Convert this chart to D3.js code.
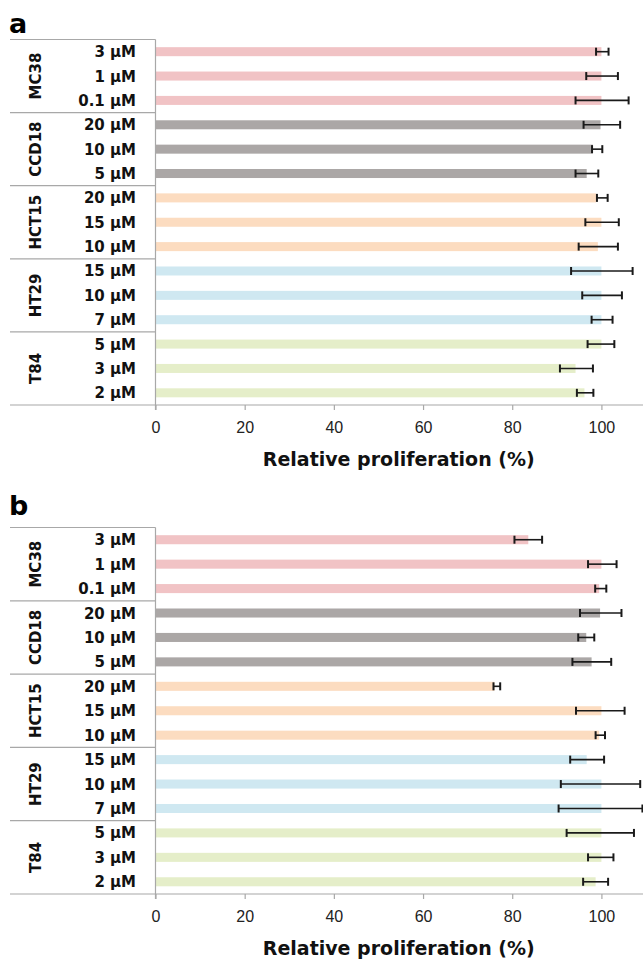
<!DOCTYPE html>
<html lang="en">
<head>
<meta charset="UTF-8">
<title>relative proliferation</title>
<script src="https://d3js.org/d3.v7.min.js"></script>
<style>
  body{margin:0;background:#fff;}
  svg{display:block;font-family:"DejaVu Sans",Verdana,sans-serif;}
  .grp text{font-weight:bold;font-size:15px;fill:#111;}
  .tick text{font-size:16px;fill:#222;}
</style>
</head>
<body>
<svg id="chart"></svg>
<script>
// cell lines and the doses shown for each, top to bottom
let cellLines=["MC38","CCD18","HCT15","HT29","T84"];
let doses=[["3 μM","1 μM","0.1 μM"],
           ["20 μM","10 μM","5 μM"],
           ["20 μM","15 μM","10 μM"],
           ["15 μM","10 μM","7 μM"],
           ["5 μM","3 μM","2 μM"]];
let colors=["#f1c3c5","#aba7a6","#fcdcc0","#cfe8f1","#e5eec9"];
let xTicks=[0,20,40,60,80,100];

// panel a
let valuesA=[100,100,100, 99.8,98.1,96.7, 98.8,100,99.2, 100,100,100, 100,94.2,96.2];
let lowA   =[98.8,96.6,94.2, 96.0,97.9,94.2, 99.0,96.4,94.9, 93.2,95.7,97.8, 96.9,90.7,94.5];
let highA  =[101.6,103.7,106.1, 104.2,100.2,99.3, 101.4,103.9,103.7, 107.0,104.6,102.5, 102.9,98.1,98.2];
// panel b
let valuesB=[83.6,100,99.5, 99.7,96.6,97.8, 76.0,100,99.5, 96.7,100,100, 100,100,98.7];
let lowB   =[80.5,97.0,98.6, 95.2,94.8,93.5, 75.8,94.3,98.7, 93.0,90.9,90.4, 92.2,97.0,95.9];
let highB  =[86.7,103.4,101.1, 104.5,98.4,102.2, 77.3,105.2,100.8, 100.6,108.7,109.2, 107.3,102.7,101.5];

let W=643,H=960;
let svg=d3.select('#chart').attr('width',W).attr('height',H);

let x=d3.scaleLinear().domain([0,110]).range([155.5,646]);
let lineCol='#a8a8a8';

// flat row list
let rows=[];
doses.forEach((ds,g)=>ds.forEach(d=>rows.push({group:g,dose:d,key:cellLines[g]+'|'+d})));

function panel(letter,top,bottom,letterY,values,low,high){
  let y=d3.scaleBand().domain(rows.map(r=>r.key)).range([top,bottom]);
  let barH=y.bandwidth()*0.37;
  let g=svg.append('g');

  g.append('text').attr('x',9).attr('y',letterY)
    .attr('font-size',27).attr('font-weight','bold').text(letter);

  // left table lines
  let step=y.step()*3;
  let hl=d3.range(cellLines.length+1).map(i=>top+i*step);
  g.selectAll('.hl').data(hl.slice(0,-1)).enter().append('line')
    .attr('x1',10).attr('x2',x(0)).attr('y1',d=>d).attr('y2',d=>d)
    .attr('stroke',lineCol).attr('stroke-width',1.2);

  // bars
  g.selectAll('.bar').data(rows).enter().append('rect')
    .attr('x',x(0))
    .attr('y',r=>y(r.key)+(y.bandwidth()-barH)/2)
    .attr('width',(r,i)=>x(values[i])-x(0))
    .attr('height',barH)
    .attr('fill',r=>colors[r.group]);

  // error bars
  let eb=g.selectAll('.eb').data(rows).enter().append('g')
    .attr('transform',r=>'translate(0,'+(y(r.key)+y.bandwidth()/2)+')');
  eb.append('line').attr('x1',(r,i)=>x(low[i])).attr('x2',(r,i)=>x(high[i]))
    .attr('stroke','#1a1a1a').attr('stroke-width',1.6);
  eb.append('line').attr('x1',(r,i)=>x(low[i])).attr('x2',(r,i)=>x(low[i]))
    .attr('y1',-4).attr('y2',4).attr('stroke','#1a1a1a').attr('stroke-width',2);
  eb.append('line').attr('x1',(r,i)=>x(high[i])).attr('x2',(r,i)=>x(high[i]))
    .attr('y1',-4).attr('y2',4).attr('stroke','#1a1a1a').attr('stroke-width',2);

  // dose labels
  let lab=g.append('g').attr('class','grp');
  lab.selectAll('.dose').data(rows).enter().append('text')
    .attr('x',136).attr('y',r=>y(r.key)+y.bandwidth()/2+5.5)
    .attr('text-anchor','end').text(r=>r.dose);
  // cell line labels
  lab.selectAll('.cl').data(cellLines).enter().append('text')
    .attr('transform',(d,i)=>'translate(41,'+(top+i*step+step/2)+') rotate(-90)')
    .attr('text-anchor','middle').text(d=>d);

  // x axis
  let ax=g.append('g').attr('transform','translate(0,'+bottom+')')
    .call(d3.axisBottom(x).tickValues(xTicks).tickSize(5).tickPadding(12).tickFormat(d3.format('d')));
  ax.select('.domain').remove();
  ax.selectAll('.tick line').attr('stroke',lineCol).attr('stroke-width',1.2);
  ax.selectAll('.tick text').attr('dy','0.71em');
  g.append('line').attr('x1',10).attr('x2',W).attr('y1',bottom).attr('y2',bottom)
    .attr('stroke',lineCol).attr('stroke-width',1.2);
  // y axis line
  g.append('line').attr('x1',x(0)).attr('x2',x(0)).attr('y1',top).attr('y2',bottom+5)
    .attr('stroke',lineCol).attr('stroke-width',1.2);

  g.append('text').attr('x',x(55)-2).attr('y',bottom+61)
    .attr('text-anchor','middle').attr('font-size',19).attr('font-weight','bold')
    .attr('fill','#111').text('Relative proliferation (%)');
}

panel('a',39.5,405,33,valuesA,lowA,highA);
panel('b',527.5,894,515,valuesB,lowB,highB);
</script>
</body>
</html>
